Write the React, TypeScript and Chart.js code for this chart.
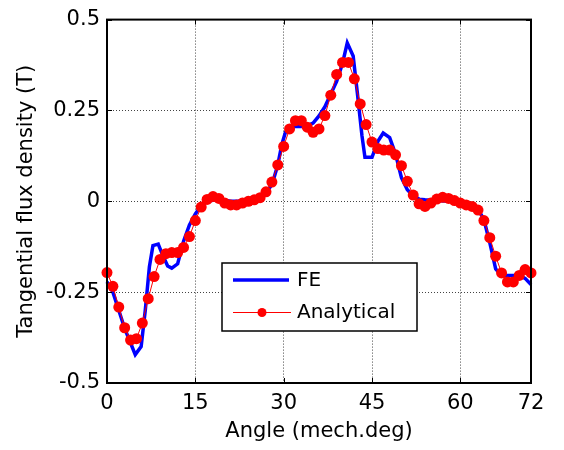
import React, { useEffect, useRef } from "react";
import { Chart, registerables } from "chart.js";

Chart.register(...registerables);

const X_TICKS = [0, 15, 30, 45, 60, 72];
const Y_TICKS = [-0.5, -0.25, 0, 0.25, 0.5];
const Y_TICK_LABELS = ["-0.5", "-0.25", "0", "0.25", "0.5"];

const FE_ANGLE = [
  0, 1, 2, 3, 4, 4.8, 5.8, 6.5, 7.2, 7.8, 8.7, 9.5, 10.3, 11, 12, 13, 14, 15, 16, 17, 18, 19, 20, 21, 22, 23, 24,
  25, 26, 27, 28, 29, 29.7, 30.3, 31, 32, 33, 34, 35, 36, 37, 38, 39, 40, 40.8, 41.8, 42.5, 43.3, 43.8, 45, 46,
  46.9, 48, 49, 50, 51, 52, 53, 54, 55, 56, 58, 60, 61, 62, 63, 64, 65, 66, 67, 68, 69, 70, 71, 72,
];
const FE_VALUE = [
  -0.222, -0.25, -0.3, -0.35, -0.39, -0.422, -0.4, -0.3, -0.18, -0.122, -0.118, -0.15, -0.178, -0.184, -0.172,
  -0.11, -0.065, -0.035, -0.012, 0.0, 0.003, 0.005, 0.003, 0.0, 0.0, 0.0, 0.003, 0.008, 0.015, 0.025, 0.045, 0.1,
  0.157, 0.19, 0.205, 0.206, 0.206, 0.208, 0.215, 0.235, 0.26, 0.295, 0.33, 0.38, 0.436, 0.4, 0.3, 0.18, 0.121,
  0.121, 0.165, 0.188, 0.175, 0.13, 0.065, 0.032, 0.015, 0.006, 0.004, 0.003, 0.002, 0.0, -0.001, -0.005, -0.012,
  -0.022, -0.05, -0.114, -0.186, -0.204, -0.204, -0.204, -0.204, -0.212, -0.229,
];

const AN_ANGLE = Array.from({ length: 73 }, (_, i) => i);
const AN_VALUE = [
  -0.196, -0.234, -0.291, -0.348, -0.382, -0.378, -0.335, -0.268, -0.207, -0.16, -0.144, -0.141, -0.141, -0.127,
  -0.097, -0.053, -0.016, 0.005, 0.013, 0.008, -0.005, -0.01, -0.01, -0.005, 0.0, 0.004, 0.01, 0.026, 0.053, 0.1,
  0.151, 0.199, 0.222, 0.222, 0.204, 0.19, 0.199, 0.236, 0.292, 0.349, 0.382, 0.382, 0.337, 0.268, 0.211, 0.163,
  0.145, 0.141, 0.141, 0.128, 0.098, 0.055, 0.017, -0.007, -0.014, -0.005, 0.006, 0.011, 0.008, 0.002, -0.005,
  -0.01, -0.014, -0.024, -0.053, -0.1, -0.151, -0.197, -0.222, -0.222, -0.204, -0.188, -0.197,
];

const FONT = "DejaVu Sans";

const framePlugin = {
  id: "frame",
  afterDatasetsDraw(chart: any) {
    const { ctx, chartArea, scales } = chart;
    const { left, right, top, bottom } = chartArea;
    ctx.save();
    ctx.strokeStyle = "#000";
    ctx.lineWidth = 1;
    const tl = 5;
    ctx.beginPath();
    X_TICKS.forEach((v) => {
      const x = Math.round(scales.x.getPixelForValue(v)) + 0.5;
      ctx.moveTo(x, bottom);
      ctx.lineTo(x, bottom - tl);
      ctx.moveTo(x, top);
      ctx.lineTo(x, top + tl);
    });
    Y_TICKS.forEach((v) => {
      const y = Math.round(scales.y.getPixelForValue(v)) + 0.5;
      ctx.moveTo(left, y);
      ctx.lineTo(left + tl, y);
      ctx.moveTo(right, y);
      ctx.lineTo(right - tl, y);
    });
    ctx.stroke();
    ctx.lineWidth = 2;
    ctx.strokeRect(left, top, right - left, bottom - top);

    // legend
    const bx = 222, by = 263, bw = 195, bh = 68;
    ctx.fillStyle = "#fff";
    ctx.fillRect(bx, by, bw, bh);
    ctx.lineWidth = 1.5;
    ctx.strokeStyle = "#000";
    ctx.strokeRect(bx, by, bw, bh);
    ctx.strokeStyle = "#0000ff";
    ctx.lineWidth = 3.5;
    ctx.beginPath();
    ctx.moveTo(233, 280);
    ctx.lineTo(289, 280);
    ctx.stroke();
    ctx.strokeStyle = "#ff0000";
    ctx.lineWidth = 1;
    ctx.beginPath();
    ctx.moveTo(233, 312.5);
    ctx.lineTo(291, 312.5);
    ctx.stroke();
    ctx.fillStyle = "#ff0000";
    ctx.beginPath();
    ctx.arc(262, 312.5, 4.5, 0, Math.PI * 2);
    ctx.fill();
    ctx.fillStyle = "#000";
    ctx.font = `20px "${FONT}"`;
    ctx.textBaseline = "middle";
    ctx.textAlign = "left";
    ctx.fillText("FE", 297, 281);
    ctx.fillText("Analytical", 297, 313);
    ctx.restore();
  },
};

export default function App() {
  const ref = useRef<HTMLCanvasElement | null>(null);
  useEffect(() => {
    if (!ref.current) return;
    Chart.defaults.font.family = FONT;
    Chart.defaults.color = "#000";
    const chart = new Chart(ref.current, {
      type: "line",
      data: {
        datasets: [
          {
            label: "Analytical",
            data: AN_ANGLE.map((x, i) => ({ x, y: AN_VALUE[i] })),
            borderColor: "#ff0000",
            backgroundColor: "#ff0000",
            borderWidth: 1,
            pointRadius: 5.5,
            pointBorderWidth: 0,
            pointBackgroundColor: "#ff0000",
            tension: 0,
            order: 0,
            clip: 12,
          },
          {
            label: "FE",
            data: FE_ANGLE.map((x, i) => ({ x, y: FE_VALUE[i] })),
            borderColor: "#0000ff",
            backgroundColor: "#0000ff",
            borderWidth: 3.5,
            pointRadius: 0,
            tension: 0,
            order: 1,
            clip: 4,
          },
        ],
      },
      options: {
        responsive: false,
        animation: false,
        layout: { padding: { top: 13, right: 33, left: 0, bottom: 0 } },
        plugins: { legend: { display: false }, tooltip: { enabled: false } },
        scales: {
          x: {
            type: "linear",
            min: 0,
            max: 72,
            afterBuildTicks: (s: any) => {
              s.ticks = X_TICKS.map((v) => ({ value: v }));
            },
            afterFit: (s: any) => {
              s.height = 67;
            },
            ticks: {
              font: { size: 21 },
              padding: 8,
              maxRotation: 0,
              autoSkip: false,
              callback: (v: any) => String(v),
            },
            grid: { color: "#444", lineWidth: 1, drawTicks: false },
            border: { display: false, dash: [1, 2] },
            title: { display: true, text: "Angle (mech.deg)", font: { size: 21 }, padding: { top: 0, bottom: 6 } },
          },
          y: {
            type: "linear",
            min: -0.5,
            max: 0.5,
            afterBuildTicks: (s: any) => {
              s.ticks = Y_TICKS.map((v) => ({ value: v }));
            },
            afterFit: (s: any) => {
              s.width = 107;
            },
            ticks: {
              font: { size: 21 },
              padding: 7,
              autoSkip: false,
              callback: (v: any) => {
                const i = Y_TICKS.indexOf(Number(v));
                return i >= 0 ? Y_TICK_LABELS[i] : "";
              },
            },
            grid: { color: "#444", lineWidth: 1, drawTicks: false },
            border: { display: false, dash: [1, 2] },
            title: {
              display: true,
              text: "Tangential flux density (T)",
              font: { size: 21 },
              padding: { top: 14, bottom: 0 },
            },
          },
        },
      },
      plugins: [framePlugin],
    });
    return () => chart.destroy();
  }, []);
  return (
    <div style={{ position: "absolute", left: 0, top: 0, width: 564, height: 450, background: "#fff" }}>
      <canvas ref={ref} width={564} height={450} style={{ display: "block" }} />
    </div>
  );
}
